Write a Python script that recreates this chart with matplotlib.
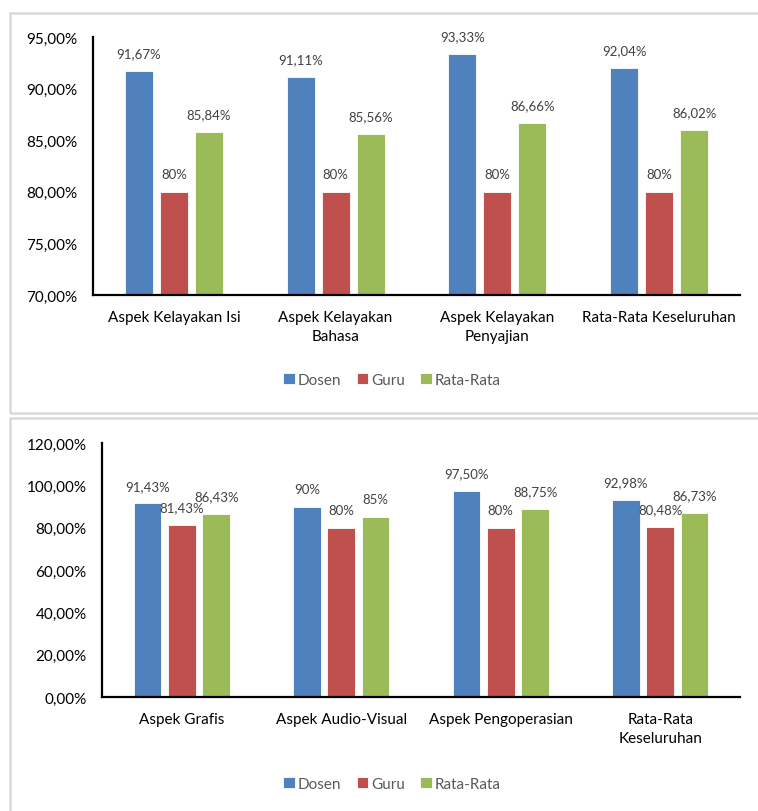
import numpy as np
import matplotlib.pyplot as plt
from matplotlib.patches import Rectangle

plt.rcParams['font.family'] = ['Lato', 'DejaVu Sans']

series = ['Dosen', 'Guru', 'Rata-Rata']
colors = ['#4F81BD', '#C0504D', '#9BBB59']

# chart 1
cats_top = ['Aspek Kelayakan Isi', 'Aspek Kelayakan\nBahasa',
            'Aspek Kelayakan\nPenyajian', 'Rata-Rata Keseluruhan']
dosen_top = [91.67, 91.11, 93.33, 92.04]
guru_top = [80, 80, 80, 80]
rata_top = [85.84, 85.56, 86.66, 86.02]
labels_top = [['91,67%', '91,11%', '93,33%', '92,04%'],
              ['80%', '80%', '80%', '80%'],
              ['85,84%', '85,56%', '86,66%', '86,02%']]

# chart 2
cats_bot = ['Aspek Grafis', 'Aspek Audio-Visual', 'Aspek Pengoperasian',
            'Rata-Rata\nKeseluruhan']
dosen_bot = [91.43, 90, 97.50, 92.98]
guru_bot = [81.43, 80, 80, 80.48]
rata_bot = [86.43, 85, 88.75, 86.73]
labels_bot = [['91,43%', '90%', '97,50%', '92,98%'],
              ['81,43%', '80%', '80%', '80,48%'],
              ['86,43%', '85%', '88,75%', '86,73%']]


def pct(v, pos=None):
    return f'{v:.2f}'.replace('.', ',') + '%'


def draw(ax, cats, data, labels, ylim, step, leg_y):
    x = np.arange(len(cats))
    w = 0.173
    off = 0.216
    for i, (vals, c) in enumerate(zip(data, colors)):
        bars = ax.bar(x + (i - 1) * off, np.array(vals) - ylim[0], w, bottom=ylim[0],
                      color=c, edgecolor='white', linewidth=0.6, label=series[i])
        for b, v, t in zip(bars, vals, labels[i]):
            ax.annotate(t, (b.get_x() + b.get_width() / 2, v), xytext=(0, 8.5),
                        textcoords='offset points', ha='center', va='bottom',
                        fontsize=9.5, color='#404040')
    ax.set_xlim(-0.5, len(cats) - 0.5)
    ax.set_ylim(*ylim)
    ax.set_yticks(np.arange(ylim[0], ylim[1] + 0.1, step))
    ax.yaxis.set_major_formatter(plt.FuncFormatter(pct))
    ax.set_xticks(x)
    ax.set_xticklabels(cats, fontsize=11, linespacing=1.45)
    ax.tick_params(axis='y', length=0, labelsize=11, pad=11)
    ax.tick_params(axis='x', length=0, pad=11)
    for s in ['top', 'right']:
        ax.spines[s].set_visible(False)
    for s in ['left', 'bottom']:
        ax.spines[s].set_linewidth(1.6)
        ax.spines[s].set_color('black')
    ax.legend(loc='center', bbox_to_anchor=(392 / 758, leg_y), bbox_transform=fig.transFigure,
              ncol=3, frameon=False, fontsize=11, handlelength=0.75, handleheight=0.75,
              handletextpad=0.2, columnspacing=1.0, labelcolor='#595959')


fig = plt.figure(figsize=(7.58, 8.12), dpi=100)

# panel borders
fig.add_artist(Rectangle((10 / 758, 1 - 414 / 812), 760 / 758, 400 / 812,
                         transform=fig.transFigure, fill=False,
                         edgecolor='#d9d9d9', linewidth=1.8))
fig.add_artist(Rectangle((10 / 758, -0.01), 760 / 758, 1 - 419 / 812 + 0.01,
                         transform=fig.transFigure, fill=False,
                         edgecolor='#d9d9d9', linewidth=1.8))

ax1 = fig.add_axes([93 / 758, 1 - 296 / 812, 647 / 758, 258 / 812])
draw(ax1, cats_top, [dosen_top, guru_top, rata_top], labels_top, (70, 95), 5,
     1 - 381 / 812)

ax2 = fig.add_axes([102 / 758, 1 - 698 / 812, 638 / 758, 254 / 812])
draw(ax2, cats_bot, [dosen_bot, guru_bot, rata_bot], labels_bot, (0, 120), 20,
     1 - 785 / 812)

fig.savefig('out.png', dpi=100)
